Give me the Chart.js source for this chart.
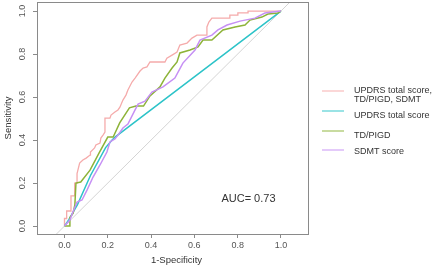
<!DOCTYPE html>
<html>
<head>
<meta charset="utf-8">
<script src="https://cdn.jsdelivr.net/npm/chart.js@4.4.0/dist/chart.umd.min.js"></script>
<style>
  html, body { margin: 0; padding: 0; background: #fff; }
  #wrap { width: 440px; height: 270px; }
</style>
</head>
<body>
<div id="wrap"><canvas id="roc" width="440" height="270"></canvas></div>
<script>
// tick positions
const xTicks = [0, 0.2, 0.4, 0.6, 0.8, 1.0];
const yTicks = [0, 0.2, 0.4, 0.6, 0.8, 1.0];

// legend names
const seriesNames = [
  ['UPDRS total score,', 'TD/PIGD, SDMT'],
  ['UPDRS total score'],
  ['TD/PIGD'],
  ['SDMT score']
];
const aucText = 'AUC= 0.73';

// combined model (stepped ROC)
const combinedX = [0, 0, 0.01, 0.01, 0.03, 0.03, 0.047, 0.047, 0.058, 0.058, 0.07, 0.085, 0.1, 0.118, 0.12, 0.139,
  0.145, 0.164, 0.168, 0.178, 0.187, 0.187, 0.21, 0.215, 0.233, 0.247, 0.256, 0.27, 0.284, 0.293, 0.312, 0.326,
  0.349, 0.363, 0.381, 0.395, 0.464, 0.473, 0.497, 0.52, 0.533, 0.566, 0.589, 0.612, 0.658, 0.658, 0.667, 0.681,
  0.764, 0.764, 0.801, 0.801, 0.848, 0.848, 1.0];
const combinedY = [0, 0.035, 0.035, 0.07, 0.07, 0.14, 0.14, 0.2, 0.2, 0.244, 0.293, 0.307, 0.316, 0.33, 0.344, 0.363,
  0.377, 0.386, 0.409, 0.423, 0.437, 0.502, 0.502, 0.516, 0.53, 0.54, 0.553, 0.586, 0.609, 0.633, 0.67, 0.688,
  0.721, 0.735, 0.74, 0.763, 0.763, 0.781, 0.795, 0.809, 0.842, 0.851, 0.874, 0.888, 0.888, 0.926, 0.949, 0.967,
  0.967, 0.981, 0.981, 0.991, 0.991, 1.0, 1.0];

// UPDRS total score
const updrsX = [0, 0.02, 0.06, 0.12, 0.19, 0.22, 0.235, 1.0];
const updrsY = [0, 0.03, 0.1, 0.235, 0.365, 0.4, 0.415, 1.0];

// TD/PIGD
const tdX = [0, 0.025, 0.025, 0.04, 0.048, 0.053, 0.075, 0.118, 0.16, 0.2, 0.225, 0.255, 0.3, 0.33, 0.365, 0.395,
  0.441, 0.464, 0.497, 0.52, 0.533, 0.58, 0.617, 0.64, 0.681, 0.732, 0.788, 0.834, 0.857, 0.912, 0.94, 0.986, 1.0];
const tdY = [0, 0, 0.04, 0.06, 0.1, 0.2, 0.205, 0.26, 0.34, 0.414, 0.414, 0.48, 0.55, 0.558, 0.558, 0.605,
  0.647, 0.688, 0.735, 0.763, 0.805, 0.819, 0.833, 0.865, 0.865, 0.912, 0.926, 0.935, 0.958, 0.972, 0.986, 0.991, 1.0];

// SDMT score
const sdmtX = [0, 0.025, 0.039, 0.058, 0.081, 0.104, 0.132, 0.164, 0.196, 0.21, 0.233, 0.247, 0.27, 0.293, 0.326,
  0.34, 0.372, 0.404, 0.455, 0.51, 0.547, 0.603, 0.626, 0.681, 0.709, 0.751, 0.811, 0.88, 0.926, 1.0];
const sdmtY = [0, 0.028, 0.065, 0.112, 0.121, 0.167, 0.228, 0.284, 0.344, 0.391, 0.405, 0.423, 0.456, 0.474, 0.54,
  0.567, 0.581, 0.623, 0.647, 0.688, 0.758, 0.819, 0.865, 0.888, 0.912, 0.935, 0.953, 0.967, 0.991, 1.0];

// reference diagonal
const diagX = [-0.3, 1.3];
const diagY = [-0.3, 1.3];

const colors = ['#f5abab', '#2cc3c8', '#8db338', '#c690f4'];

function pts(xs, ys) {
  return xs.map((x, i) => ({ x: x, y: ys[i] }));
}

const seriesPts = [
  pts(combinedX, combinedY),
  pts(updrsX, updrsY),
  pts(tdX, tdY),
  pts(sdmtX, sdmtY)
];

const datasets = seriesPts.map((d, i) => ({
  label: seriesNames[i].join(' '),
  data: d,
  borderColor: colors[i],
  borderWidth: i === 0 ? 1.3 : 1.5,
  showLine: true,
  pointRadius: 0,
  tension: 0,
  order: 4 - i
}));
datasets.push({
  label: 'diag',
  data: pts(diagX, diagY),
  borderColor: '#d4d4d4',
  borderWidth: 1,
  showLine: true,
  pointRadius: 0,
  order: 10
});

const font = "'Liberation Sans', Arial, sans-serif";

const extras = {
  id: 'extras',
  afterDraw(chart) {
    const ctx = chart.ctx;
    const a = chart.chartArea;
    const xs = chart.scales.x, ys = chart.scales.y;
    ctx.save();
    // box
    ctx.strokeStyle = '#8a8a8a';
    ctx.lineWidth = 1;
    ctx.strokeRect(Math.round(a.left) + 0.5, Math.round(a.top) + 0.5,
      Math.round(a.right - a.left), Math.round(a.bottom - a.top));
    // rotated y tick labels
    ctx.fillStyle = '#555';
    ctx.font = '9px ' + font;
    ctx.textAlign = 'center';
    ctx.textBaseline = 'middle';
    ys.ticks.forEach(t => {
      const py = ys.getPixelForValue(t.value);
      ctx.save();
      ctx.translate(23, py);
      ctx.rotate(-Math.PI / 2);
      ctx.fillText(t.value.toFixed(1), 0, 0);
      ctx.restore();
    });
    // x title, centred a little right of the box centre as in the original
    ctx.fillStyle = '#333';
    ctx.font = '9.5px ' + font;
    ctx.fillText('1-Specificity', (a.left + a.right) / 2 + 4, 260);
    // AUC text
    ctx.font = '11px ' + font;
    ctx.fillText(aucText, xs.getPixelForValue(0.85), ys.getPixelForValue(0.125));
    // legend
    const lineY = [91, 111, 131, 150];
    const textY = [[90.5, 100], [115.5], [135.5], [151.5]];
    ctx.font = '9px ' + font;
    ctx.textAlign = 'left';
    seriesNames.forEach((names, i) => {
      ctx.save();
      ctx.strokeStyle = colors[i];
      ctx.globalAlpha = 0.8;
      ctx.lineWidth = 1.2;
      ctx.beginPath();
      ctx.moveTo(322, lineY[i]);
      ctx.lineTo(344, lineY[i]);
      ctx.stroke();
      ctx.restore();
      ctx.fillStyle = '#333';
      names.forEach((n, j) => ctx.fillText(n, 354, textY[i][j]));
    });
    ctx.restore();
  }
};

new Chart(document.getElementById('roc'), {
  type: 'scatter',
  data: { datasets: datasets },
  options: {
    responsive: false,
    animation: false,
    devicePixelRatio: 1,
    layout: { padding: { left: 0, top: 2, right: 132, bottom: 0 } },
    plugins: { legend: { display: false }, tooltip: { enabled: false } },
    scales: {
      x: {
        type: 'linear',
        min: -0.127,
        max: 1.125,
        afterBuildTicks: s => { s.ticks = xTicks.map(v => ({ value: v })); },
        afterFit: s => { s.height = 36; },
        grid: { drawOnChartArea: false, drawTicks: true, tickLength: 4, color: '#8a8a8a' },
        border: { display: false },
        ticks: {
          padding: 2,
          color: '#555',
          font: { family: font, size: 9 },
          maxRotation: 0,
          callback: v => v.toFixed(1)
        },
        title: { display: false }
      },
      y: {
        type: 'linear',
        min: -0.037,
        max: 1.042,
        afterBuildTicks: s => { s.ticks = yTicks.map(v => ({ value: v })); },
        afterFit: s => { s.width = 37; },
        grid: { drawOnChartArea: false, drawTicks: true, tickLength: 4, color: '#8a8a8a' },
        border: { display: false },
        ticks: { display: false },
        title: {
          display: true,
          text: 'Sensitivity',
          color: '#333',
          font: { family: font, size: 9.5 },
          padding: { top: 3, bottom: 0 }
        }
      }
    }
  },
  plugins: [extras]
});
</script>
</body>
</html>
